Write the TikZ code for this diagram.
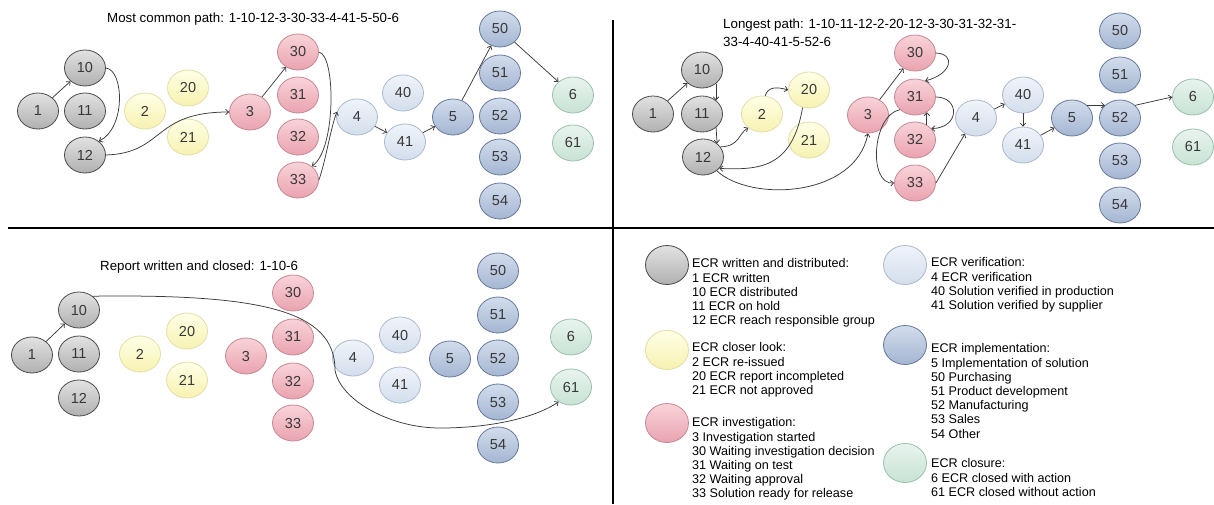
\documentclass[tikz,border=0pt]{standalone}
\usepackage{fontspec}
\setmainfont{Liberation Sans}
\usetikzlibrary{shapes.geometric,arrows.meta}
\definecolor{grT}{HTML}{E2E2E2}\definecolor{grB}{HTML}{B0B0B0}\definecolor{grD}{HTML}{4A4A4A}
\definecolor{yeT}{HTML}{FFFFE6}\definecolor{yeB}{HTML}{F7F2B0}\definecolor{yeD}{HTML}{E2DDA8}
\definecolor{pkT}{HTML}{F9D3D9}\definecolor{pkB}{HTML}{E9A3AF}\definecolor{pkD}{HTML}{C48894}
\definecolor{lbT}{HTML}{F0F4FA}\definecolor{lbB}{HTML}{D3DEEC}\definecolor{lbD}{HTML}{AAB8CC}
\definecolor{blT}{HTML}{D2DCEC}\definecolor{blB}{HTML}{A4B6D2}\definecolor{blD}{HTML}{66789A}
\definecolor{gnT}{HTML}{E8F4EE}\definecolor{gnB}{HTML}{C8E2D4}\definecolor{gnD}{HTML}{9ABFAB}
\definecolor{edc}{HTML}{3A3A3A}
\begin{document}
\begin{tikzpicture}[x=1pt,y=-1pt,
  st/.style={ellipse, minimum width=41pt, minimum height=36pt, inner sep=0pt, line width=0.8pt,
    font=\fontsize{14.5}{15}\selectfont, text=black!78},
  gr/.style={st, draw=grD, top color=grT, bottom color=grB},
  ye/.style={st, draw=yeD, top color=yeT, bottom color=yeB},
  pk/.style={st, draw=pkD, top color=pkT, bottom color=pkB},
  lb/.style={st, draw=lbD, top color=lbT, bottom color=lbB},
  bl/.style={st, draw=blD, top color=blT, bottom color=blB},
  gn/.style={st, draw=gnD, top color=gnT, bottom color=gnB},
  leg/.style={minimum width=43pt, minimum height=39pt},
  ed/.style={line width=0.75pt, draw=edc, -{Straight Barb[length=3pt,width=5.5pt]}},
  ttl/.style={anchor=west, inner sep=0pt, font=\fontsize{13.3}{17}\selectfont, align=left},
  ltx/.style={anchor=north west, inner sep=0pt, font=\fontsize{12.6}{14.2}\selectfont, align=left},
  sep/.style={line width=2pt, draw=black}
]
\useasboundingbox (0,0) rectangle (1214,504);
\draw[sep] (613,20) -- (613,504);
\draw[sep] (8,228) -- (1214,228);

% ---------- Panel A: most common path
\node[ttl] (ta) at (107,19) {Most common path: 1-10-12-3-30-33-4-41-5-50-6};
\node[gr] (a1) at (38,111) {1};
\node[gr] (a10) at (85,68) {10};
\node[gr] (a11) at (85,111) {11};
\node[gr] (a12) at (85,155) {12};
\node[ye] (a2) at (145,111) {2};
\node[ye] (a20) at (188,88) {20};
\node[ye] (a21) at (188,137) {21};
\node[pk] (a3) at (250,112) {3};
\node[pk] (a30) at (298,52) {30};
\node[pk] (a31) at (298,95) {31};
\node[pk] (a32) at (298,137) {32};
\node[pk] (a33) at (298,180) {33};
\node[lb] (a4) at (357,117) {4};
\node[lb] (a40) at (403,93) {40};
\node[lb] (a41) at (405,142) {41};
\node[bl] (a5) at (453,117) {5};
\node[bl] (a50) at (500,29) {50};
\node[bl] (a51) at (500,73) {51};
\node[bl] (a52) at (500,116) {52};
\node[bl] (a53) at (500,157) {53};
\node[bl] (a54) at (500,201) {54};
\node[gn] (a6) at (573,95) {6};
\node[gn] (a61) at (573,143) {61};
\draw[ed] (a1) -- (a10);
\draw[ed] (a10.east) .. controls (124,70) and (126,128) .. (a12.45);
\draw[ed] (a12.east) .. controls (165,153) and (152,112) .. (a3.west);
\draw[ed] (a3) -- (a30);
\draw[ed] (a30.east) .. controls (336,55) and (336,150) .. (a33.45);
\draw[ed] (a33.east) .. controls (326,160) and (330,130) .. (a4.165);
\draw[ed] (a4) -- (a41);
\draw[ed] (a41) -- (a5);
\draw[ed] (a5) -- (a50);
\draw[ed] (a50) -- (a6);

% ---------- Panel B: longest path
\node[ttl] (tb) at (723,25) {Longest path: 1-10-11-12-2-20-12-3-30-31-32-31-};
\node[ttl] (tb2) at (723,42) {33-4-40-41-5-52-6};
\node[gr] (b1) at (653,114) {1};
\node[gr] (b10) at (702,70) {10};
\node[gr] (b11) at (702,114) {11};
\node[gr] (b12) at (703,157) {12};
\node[ye] (b2) at (762,114) {2};
\node[ye] (b20) at (809,90) {20};
\node[ye] (b21) at (809,140) {21};
\node[pk] (b3) at (868,115) {3};
\node[pk] (b30) at (915,53) {30};
\node[pk] (b31) at (915,97) {31};
\node[pk] (b32) at (915,140) {32};
\node[pk] (b33) at (915,183) {33};
\node[lb] (b4) at (976,118) {4};
\node[lb] (b40) at (1023,95) {40};
\node[lb] (b41) at (1023,145) {41};
\node[bl] (b5) at (1072,118) {5};
\node[bl] (b50) at (1120,31) {50};
\node[bl] (b51) at (1120,75) {51};
\node[bl] (b52) at (1120,118) {52};
\node[bl] (b53) at (1120,161) {53};
\node[bl] (b54) at (1120,205) {54};
\node[gn] (b6) at (1193,97) {6};
\node[gn] (b61) at (1193,147) {61};
\draw[ed] (b1) -- (b10);
\draw[ed] (b10.-44) -- (b11.44);
\draw[ed] (b11.-44) -- (b12.44);
\draw[ed] (b12.30) .. controls (740,146) and (738,134) .. (b2.-135);
\draw[ed] (b2.80) .. controls (768,86) and (778,87) .. (b20.west);
\draw[ed] (b20.-110) .. controls (792,168) and (760,170) .. (b12.-35);
\draw[ed] (b12.-45) .. controls (750,202) and (855,198) .. (b3.south);
\draw[ed] (b3) -- (b30);
\draw[ed] (b30.east) .. controls (956,54) and (952,74) .. (b31.58);
\draw[ed] (b31.east) .. controls (960,97) and (960,128) .. (b32.35);
\draw[ed] (b32.52) -- (b31.-52);
\draw[ed] (b31.-140) .. controls (872,115) and (868,185) .. (b33.west);
\draw[ed] (b33.east) -- (b4.-125);
\draw[ed] (b4) -- (b40);
\draw[ed] (b40) -- (b41);
\draw[ed] (b41) -- (b5);
\draw[ed] (b5.40) -- (b52.140);
\draw[ed] (b52.40) -- (b6.west);

% ---------- Panel C: report written and closed
\node[ttl] (tc) at (100,267) {Report written and closed: 1-10-6};
\node[gr] (c1) at (32,355) {1};
\node[gr] (c10) at (79,310) {10};
\node[gr] (c11) at (79,354) {11};
\node[gr] (c12) at (79,398) {12};
\node[ye] (c2) at (140,354) {2};
\node[ye] (c20) at (187,331) {20};
\node[ye] (c21) at (187,380) {21};
\node[pk] (c3) at (246,356) {3};
\node[pk] (c30) at (293,293) {30};
\node[pk] (c31) at (293,337) {31};
\node[pk] (c32) at (293,381) {32};
\node[pk] (c33) at (293,423) {33};
\node[lb] (c4) at (353,358) {4};
\node[lb] (c40) at (400,335) {40};
\node[lb] (c41) at (400,385) {41};
\node[bl] (c5) at (450,359) {5};
\node[bl] (c50) at (498,271) {50};
\node[bl] (c51) at (498,315) {51};
\node[bl] (c52) at (498,358) {52};
\node[bl] (c53) at (498,402) {53};
\node[bl] (c54) at (498,445) {54};
\node[gn] (c6) at (571,337) {6};
\node[gn] (c61) at (571,387) {61};
\draw[ed] (c1) -- (c10);
\draw[ed] (c10.45) .. controls (260,294) and (335,310) .. (335,370)
  .. controls (340,400) and (390,428) .. (440,428)
  .. controls (490,428) and (535,418) .. (c61.-130);

% ---------- Legend
\node[gr,leg] (l1) at (667,265) {};
\node[ye,leg] (l2) at (667,350) {};
\node[pk,leg] (l3) at (667,423) {};
\node[lb,leg] (l4) at (905,265) {};
\node[bl,leg] (l5) at (905,345) {};
\node[gn,leg] (l6) at (905,463) {};
\node[ltx] (lt1) at (692,258.5) {ECR written and distributed:\\1 ECR written\\10 ECR distributed\\11 ECR on hold\\12 ECR reach responsible group};
\node[ltx] (lt2) at (692,342.5) {ECR closer look:\\2 ECR re-issued\\20 ECR report incompleted\\21 ECR not approved};
\node[ltx] (lt3) at (692,417.5) {ECR investigation:\\3 Investigation started\\30 Waiting investigation decision\\31 Waiting on test\\32 Waiting approval\\33 Solution ready for release};
\node[ltx] (lt4) at (931,257.5) {ECR verification:\\4 ECR verification\\40 Solution verified in production\\41 Solution verified by supplier};
\node[ltx] (lt5) at (931,343.5) {ECR implementation:\\5 Implementation of solution\\50 Purchasing\\51 Product development\\52 Manufacturing\\53 Sales\\54 Other};
\node[ltx] (lt6) at (931,458.5) {ECR closure:\\6 ECR closed with action\\61 ECR closed without action};
\end{tikzpicture}
\end{document}
